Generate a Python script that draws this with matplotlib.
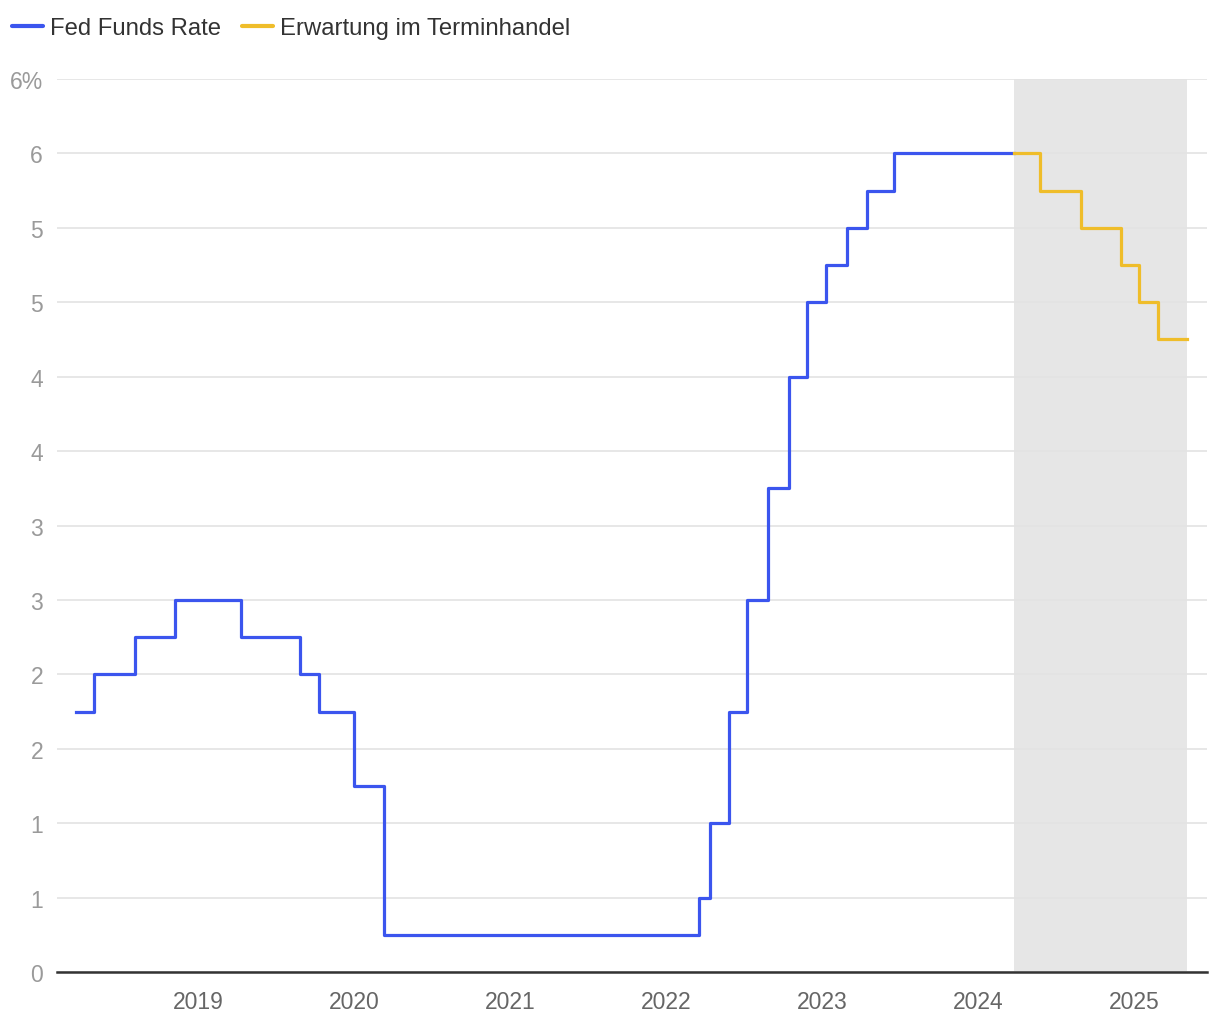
import matplotlib
matplotlib.use('Agg')
import matplotlib.pyplot as plt

plt.rcParams['font.family'] = ['Liberation Sans', 'DejaVu Sans']

# step dates (decimal years) and rates in %
fed_dates = [2018.216, 2018.333, 2018.596, 2018.853, 2019.276, 2019.654, 2019.776,
             2020.0, 2020.192, 2022.212, 2022.282, 2022.404, 2022.519, 2022.654,
             2022.788, 2022.904, 2023.026, 2023.160, 2023.288, 2023.462, 2024.231]
fed_rates = [1.75, 2.0, 2.25, 2.5, 2.25, 2.0, 1.75,
             1.25, 0.25, 0.5, 1.0, 1.75, 2.5, 3.25,
             4.0, 4.5, 4.75, 5.0, 5.25, 5.5, 5.5]

fut_dates = [2024.231, 2024.397, 2024.660, 2024.917, 2025.032, 2025.154, 2025.340]
fut_rates = [5.5, 5.25, 5.0, 4.75, 4.5, 4.25, 4.25]

years = [2019, 2020, 2021, 2022, 2023, 2024, 2025]
y_ticks = [0, 0.5, 1, 1.5, 2, 2.5, 3, 3.5, 4, 4.5, 5, 5.5, 6]
y_labels = ['0', '1', '1', '2', '2', '3', '3', '4', '4', '5', '5', '6', '6%']

blue = '#3b55ee'
yellow = '#efbd2a'

fig = plt.figure(figsize=(12.2, 10.2), dpi=100)
ax = fig.add_axes([57 / 1220, 47 / 1020, 1150 / 1220, 893 / 1020])

ax.axvspan(fut_dates[0], fut_dates[-1], color='#e6e6e6', zorder=0, lw=0)

ax.plot(fed_dates, fed_rates, drawstyle='steps-post', color=blue, lw=2.3,
        label='Fed Funds Rate', zorder=3)
ax.plot(fut_dates, fut_rates, drawstyle='steps-post', color=yellow, lw=2.3,
        label='Erwartung im Terminhandel', zorder=3)

ax.set_xlim(2018.096, 2025.468)
ax.set_ylim(0, 6)

ax.set_yticks(y_ticks)
ax.set_yticklabels(y_labels)
ax.set_xticks(years)
ax.set_xticklabels([str(y) for y in years])

ax.grid(axis='y', color='#e3e3e3', lw=1.2, zorder=1)
ax.set_axisbelow(True)

for s in ['top', 'right', 'left']:
    ax.spines[s].set_visible(False)
ax.spines['bottom'].set_color('#333333')
ax.spines['bottom'].set_linewidth(1.8)
ax.spines['bottom'].set_zorder(4)

ax.tick_params(axis='y', length=0, pad=10, labelsize=16.5, labelcolor='#9a9a9a')
ax.tick_params(axis='x', length=0, pad=13, labelsize=16.5, labelcolor='#666666')

leg = fig.legend(loc='center left', bbox_to_anchor=(12 / 1220, 1 - 29 / 1020),
                 ncol=2, frameon=False, fontsize=17.2, handlelength=1.3,
                 handletextpad=0.3, columnspacing=0.85, borderpad=0, borderaxespad=0,
                 labelcolor='#333333')
for h in leg.legend_handles:
    h.set_linewidth(3)
    h.set_solid_capstyle('round')

fig.savefig('out.png', dpi=100)
